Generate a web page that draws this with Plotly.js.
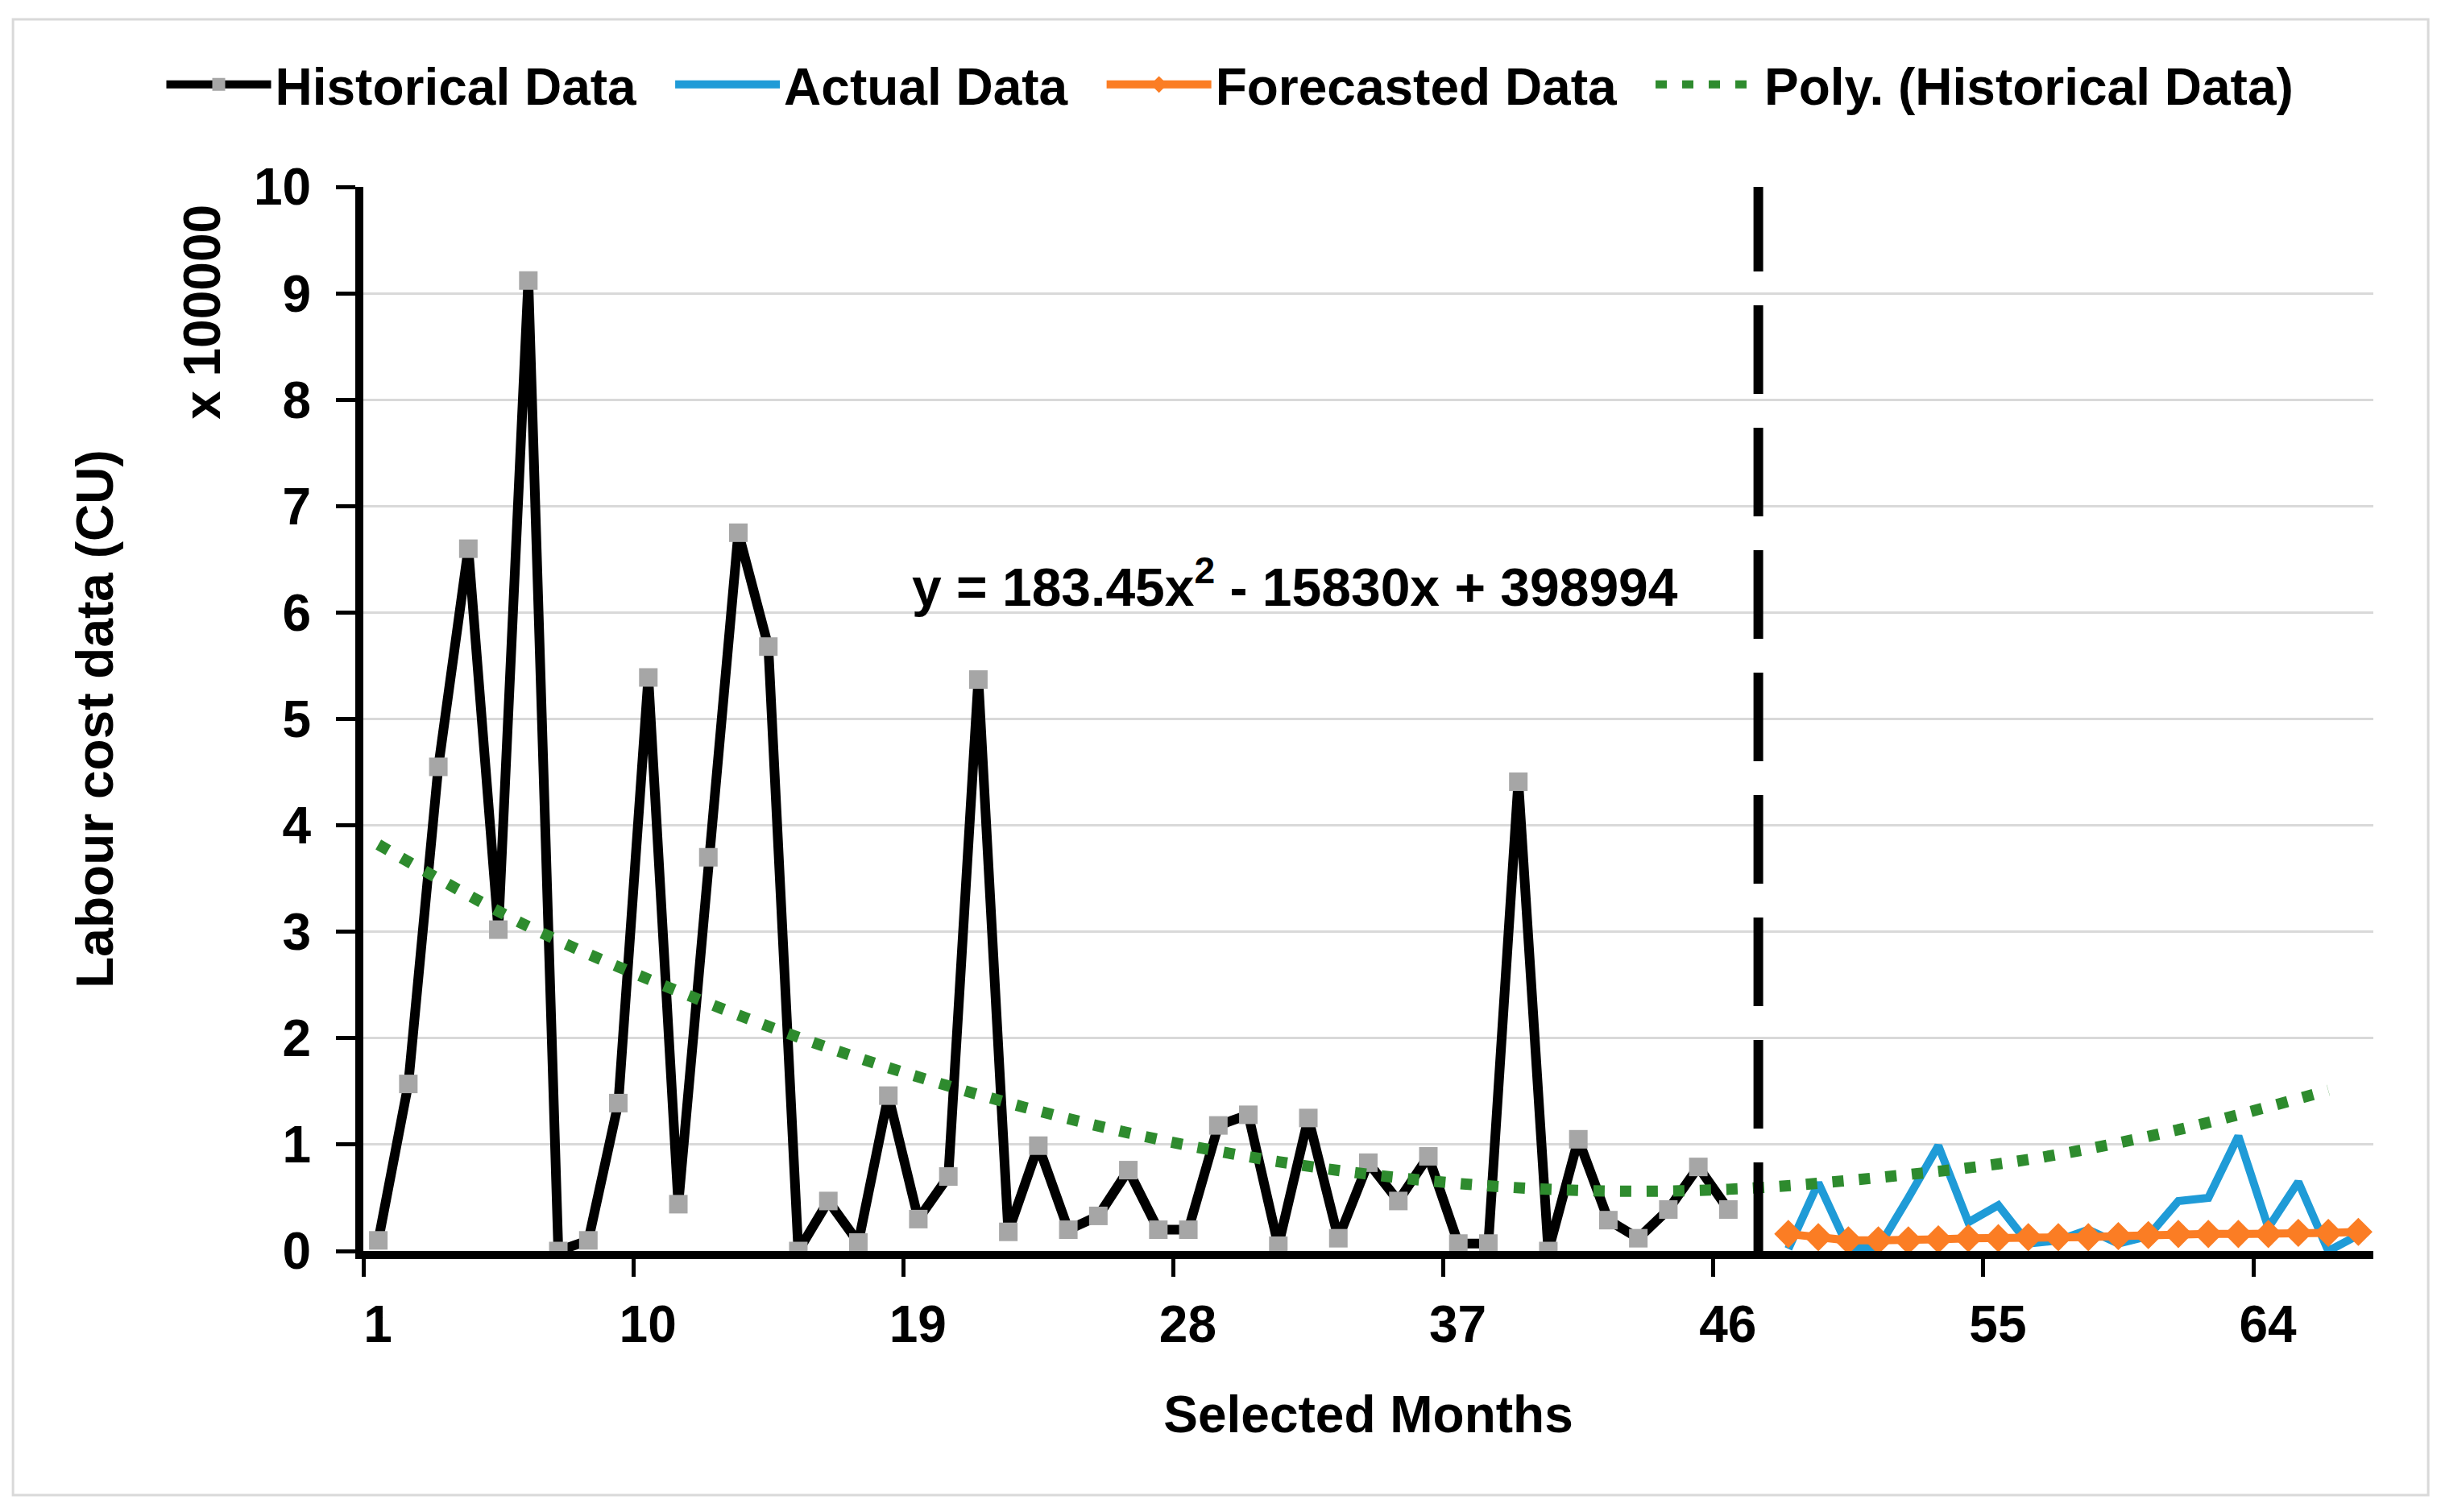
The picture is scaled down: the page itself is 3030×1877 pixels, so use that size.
<!DOCTYPE html>
<html>
<head>
<meta charset="utf-8">
<script src="https://cdn.plot.ly/plotly-3.0.1.min.js"></script>
<style>
  html, body { margin: 0; padding: 0; background: #fff; }
  #myDiv { width: 3030px; height: 1877px; }
</style>
</head>
<body>
<div id="myDiv"></div>
<script>
// DATA (values in units of 100000 CU)
const historicalMonths = Array.from({length: 46}, (_, i) => i + 1)
const historicalValues = [0.10, 1.57, 4.55, 6.60, 3.02, 9.12, 0.00, 0.10, 1.39, 5.39,
                          0.44, 3.70, 6.75, 5.68, 0.00, 0.47, 0.08, 1.46, 0.30, 0.70,
                          5.37, 0.18, 0.99, 0.20, 0.33, 0.76, 0.20, 0.20, 1.18, 1.28,
                          0.05, 1.25, 0.12, 0.83, 0.47, 0.89, 0.07, 0.07, 4.41, 0.00,
                          1.05, 0.29, 0.12, 0.39, 0.79, 0.39]

const futureMonths   = Array.from({length: 20}, (_, i) => i + 48)
const actualValues   = [0.02, 0.64, 0.03, 0.03, 0.50, 0.99, 0.27, 0.43, 0.07, 0.10,
                        0.20, 0.07, 0.14, 0.47, 0.50, 1.08, 0.22, 0.65, 0.00, 0.15]
const forecastValues = [0.16, 0.13, 0.10, 0.10, 0.10, 0.11, 0.12, 0.12, 0.13, 0.13,
                        0.13, 0.14, 0.15, 0.16, 0.16, 0.16, 0.16, 0.17, 0.17, 0.18]

// poly trendline
const trendMonths = [1, 6, 11, 16, 21, 26, 31, 36, 41, 46, 51, 56, 61, 66]
const trendValues = [3.82, 3.05, 2.44, 1.91, 1.47, 1.11, 0.84, 0.66, 0.57, 0.58, 0.69, 0.86, 1.14, 1.51]

const splitMonth  = [47]
const monthLabels = ['1', '10', '19', '28', '37', '46', '55', '64']
const equationText = 'y = 183.45x<sup>2</sup> - 15830x + 398994'

let font = 'Liberation Sans, Arial, sans-serif'
// thin spaces after each legend name give the wider gap between items
let pad = '\u2009\u2009\u2009'

let historical = {
    x: historicalMonths,
    y: historicalValues,
    name: 'Historical Data' + pad,
    type: 'scatter',
    mode: 'lines+markers',
    line: {color: '#000000', width: 12},
    marker: {symbol: 'square', size: 23, color: '#a6a6a6'},
}

let actual = {
    x: futureMonths,
    y: actualValues,
    name: 'Actual Data' + pad,
    type: 'scatter',
    mode: 'lines',
    line: {color: '#1f9bd7', width: 10},
}

let forecast = {
    x: futureMonths,
    y: forecastValues,
    name: 'Forecasted Data' + pad,
    type: 'scatter',
    mode: 'lines+markers',
    line: {color: '#fb7d24', width: 10},
    marker: {symbol: 'diamond', size: 27, color: '#fb7d24'},
}

let trend = {
    x: trendMonths,
    y: trendValues,
    name: 'Poly. (Historical Data)',
    type: 'scatter',
    mode: 'lines',
    line: {color: '#2e8b2e', width: 14, dash: '14px,19px', shape: 'spline'},
}

let data = [historical, actual, forecast, trend]

let layout = {
    width: 3030,
    height: 1877,
    margin: {l: 451, r: 84, t: 232, b: 324},
    paper_bgcolor: '#ffffff',
    plot_bgcolor: '#ffffff',
    font: {family: font, size: 64, color: '#000000', weight: 'bold'},
    showlegend: true,
    legend: {
        orientation: 'h',
        x: -0.1, xanchor: 'left',
        y: 1.096, yanchor: 'middle',
        itemwidth: 130,
        font: {family: font, size: 64, color: '#000000', weight: 'bold'},
        bgcolor: 'rgba(0,0,0,0)',
    },
    xaxis: {
        range: [0.5, 67.5],
        // EXCEL PUTS TICK MARKS BETWEEN CATEGORIES
        tickvals: monthLabels.map(m => Number(m) - 0.5),
        ticktext: monthLabels,
        ticklabelshift: 18,
        ticks: 'outside', ticklen: 22, tickwidth: 5, tickcolor: '#000',
        ticklabelstandoff: 4,
        showline: true, linecolor: '#000', linewidth: 10,
        showgrid: false, zeroline: false,
        tickfont: {family: font, size: 64, weight: 'bold'},
        title: {text: 'Selected Months', standoff: 58, font: {family: font, size: 64, weight: 'bold'}},
    },
    yaxis: {
        range: [0, 10],
        dtick: 1,
        ticks: 'outside', ticklen: 24, tickwidth: 5, tickcolor: '#000',
        ticklabelstandoff: 18,
        showline: true, linecolor: '#000', linewidth: 10,
        showgrid: true, gridcolor: '#d9d9d9', gridwidth: 3,
        zeroline: false,
        tickfont: {family: font, size: 64, weight: 'bold'},
        title: {text: 'Labour cost data (CU)', standoff: 158, font: {family: font, size: 64, weight: 'bold'}},
    },
    shapes: [
        {
            type: 'line', xref: 'x', yref: 'y',
            x0: splitMonth[0], x1: splitMonth[0], y0: 0, y1: 10,
            line: {color: '#000', width: 12, dash: '110px,42px'},
        },
        {
            type: 'rect', xref: 'paper', yref: 'paper',
            x0: -0.1743, x1: 1.0273, y0: -0.2294, y1: 1.1575,
            line: {color: '#d9d9d9', width: 3},
        },
    ],
    annotations: [
        {
            text: equationText, xref: 'paper', yref: 'paper',
            x: 0.4637, y: 0.6276, xanchor: 'center', yanchor: 'middle',
            showarrow: false,
            font: {family: font, size: 66, weight: 'bold', color: '#000'},
        },
        {
            text: 'x 100000', xref: 'paper', yref: 'paper',
            x: -0.0802, y: 0.8827, xanchor: 'center', yanchor: 'middle',
            textangle: -90, showarrow: false,
            font: {family: font, size: 64, weight: 'bold', color: '#000'},
        },
    ],
}

Plotly.newPlot('myDiv', data, layout, {displayModeBar: false, staticPlot: true})
</script>
</body>
</html>
